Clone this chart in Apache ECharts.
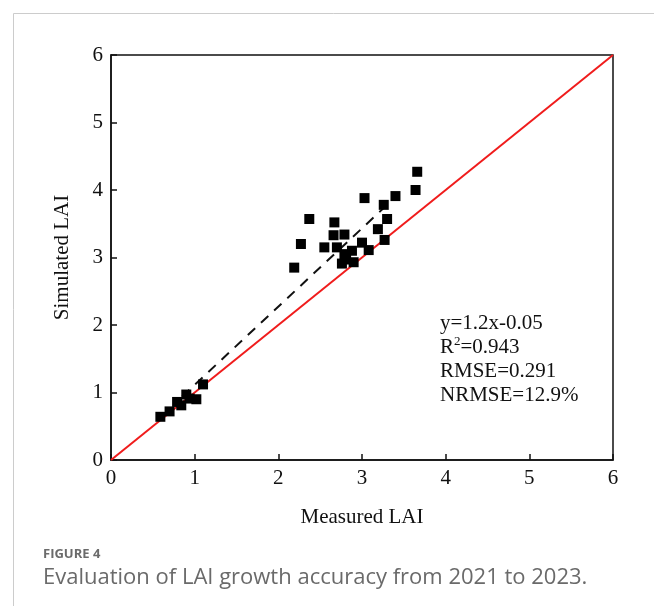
<!DOCTYPE html>
<html><head><meta charset="utf-8">
<script src="https://cdn.jsdelivr.net/npm/echarts@6/dist/echarts.min.js"></script>
<style>html,body{margin:0;padding:0;background:#fff}#c{width:654px;height:606px}</style>
</head><body><div id="c"></div>
<script>
var measured = [3.66,3.64,3.03,3.40,3.26,2.37,2.67,3.30,3.19,2.66,2.79,2.27,2.55,2.70,3.00,3.27,2.88,3.08,2.79,2.76,2.90,2.19,2.81,
  0.59,0.70,0.79,0.84,0.90,0.94,1.02,1.10];
var simulated = [4.27,4.00,3.88,3.91,3.78,3.57,3.52,3.57,3.42,3.33,3.34,3.20,3.15,3.15,3.22,3.26,3.10,3.11,3.05,2.91,2.93,2.85,2.97,
  0.64,0.72,0.86,0.81,0.97,0.91,0.90,1.12];
var oneToOne = [[0,0],[6,6]];
var fitLine = [[0.85,0.94],[3.3,3.78]];
var ticks = [0,1,2,3,4,5,6];
var statsText = ['y=1.2x-0.05','R{sup|2}=0.943','RMSE=0.291','NRMSE=12.9%'];

var pts = measured.map(function(m,i){return [m, simulated[i]];});
var chart = echarts.init(document.getElementById('c'), null, {renderer:'canvas'});
var serif = 'Liberation Serif, Times New Roman, serif';
function axis(name, isX){
  return {
    type:'value', min:ticks[0], max:ticks[ticks.length-1], interval:1,
    name:name, nameLocation:'middle', nameGap: isX?47:38,
    nameTextStyle:{fontFamily:serif, fontSize:21, color:'#111'},
    axisLine:{show:true, onZero:false, lineStyle:{color:'#111', width:1.5}},
    axisTick:{show:true, inside:true, length:6, lineStyle:{color:'#111', width:1.5}},
    axisLabel:{fontFamily:serif, fontSize:21, color:'#111', margin: 8},
    splitLine:{show:false}
  };
}
chart.setOption({
  animation:false,
  backgroundColor:'#fff',
  grid:{left:111, right:41, top:55, bottom:146, show:true, borderColor:'#111', borderWidth:1.5, backgroundColor:'transparent'},
  xAxis: axis('Measured LAI', true),
  yAxis: axis('Simulated LAI', false),
  graphic:[
    {type:'line', shape:{x1:13.5,y1:13.5,x2:654,y2:13.5}, style:{stroke:'#ccc', lineWidth:1}},
    {type:'line', shape:{x1:13.5,y1:13.5,x2:13.5,y2:606}, style:{stroke:'#ccc', lineWidth:1}},
    {type:'text', left:43, top:548, style:{text:'FIGURE 4', font:'bold 13px "Open Sans", sans-serif', fill:'#6b6b6b'}},
    {type:'text', left:43, top:567, style:{text:'Evaluation of LAI growth accuracy from 2021 to 2023.', font:'22px "Open Sans", sans-serif', fill:'#6a6a6a'}},
    {type:'text', left:440, top:311, style:{
      text: statsText.join('\n'),
      font:'21px ' + serif, fill:'#111', lineHeight:24,
      rich:{sup:{fontSize:13, verticalAlign:'top', lineHeight:24, padding:[0,0,9,0], fontFamily:serif, fill:'#111'}}
    }}
  ],
  series:[
    {type:'line', data:oneToOne, symbol:'none', lineStyle:{color:'#f01c1c', width:2}, z:3},
    {type:'line', data:fitLine, symbol:'none', lineStyle:{color:'#111', width:2, type:[10,8]}, z:2},
    {type:'scatter', data:pts, symbol:'rect', symbolSize:10, itemStyle:{color:'#000', opacity:1}, z:4}
  ]
});
</script></body></html>
